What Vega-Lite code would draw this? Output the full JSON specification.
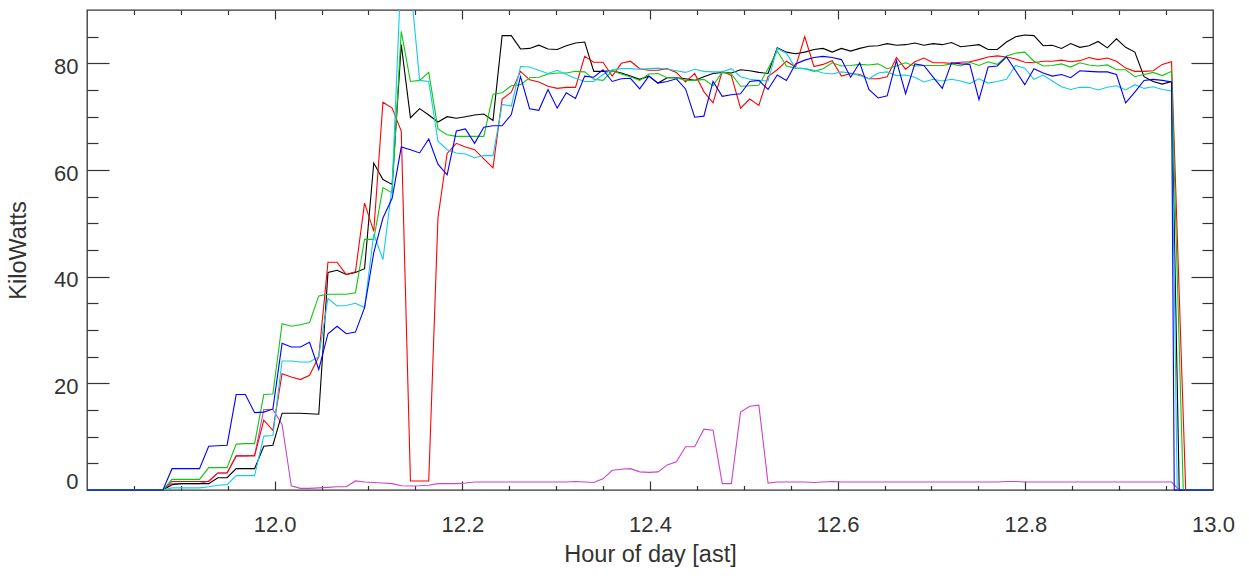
{
"$schema": "https://vega.github.io/schema/vega-lite/v6.json",
"width": 1126, "height": 480,
"autosize": "none",
"padding": {"left": 87, "top": 10, "right": 36, "bottom": 86},
"background": "white",
"config": {
 "view": {"stroke": "#333333", "strokeWidth": 1.3},
 "axis": {"labelFont": "Liberation Sans", "titleFont": "Liberation Sans", "labelFontSize": 22, "titleFontSize": 23.5, "labelColor": "#333333", "titleColor": "#333333", "titleFontWeight": "normal", "tickColor": "#333333", "tickWidth": 1.2, "grid": false, "domain": false}
},
"data": {"values": [
{"t":11.8,"k":0,"r":0,"g":0,"b":0,"c":0,"m":0},
{"t":11.8027,"k":0,"r":0,"g":0,"b":0,"c":0,"m":0},
{"t":11.8125,"k":0,"r":0,"g":0,"b":0,"c":0,"m":0},
{"t":11.8222,"k":0,"r":0,"g":0,"b":0,"c":0,"m":0},
{"t":11.8320,"k":0,"r":0,"g":0,"b":0,"c":0,"m":0},
{"t":11.8418,"k":0,"r":0,"g":0,"b":0,"c":0,"m":0},
{"t":11.8515,"k":0,"r":0,"g":0,"b":0,"c":0,"m":0},
{"t":11.8613,"k":0,"r":0,"g":0,"b":0,"c":0,"m":0},
{"t":11.8711,"k":0,"r":0,"g":0,"b":0,"c":0,"m":0},
{"t":11.8809,"k":0,"r":0,"g":0,"b":0,"c":0,"m":0},
{"t":11.8906,"k":1.0,"r":1.6,"g":2.0,"b":4.0,"c":0.4,"m":1.2},
{"t":11.9004,"k":1.2,"r":1.6,"g":2.0,"b":4.0,"c":0.4,"m":1.2},
{"t":11.9102,"k":1.2,"r":1.6,"g":2.0,"b":4.0,"c":0.4,"m":1.2},
{"t":11.9199,"k":1.2,"r":1.6,"g":2.0,"b":4.0,"c":0.4,"m":1.2},
{"t":11.9297,"k":1.2,"r":1.6,"g":4.2,"b":8.2,"c":0.6,"m":1.7},
{"t":11.9395,"k":2.3,"r":3.2,"g":4.2,"b":8.3,"c":0.9,"m":3.2},
{"t":11.9493,"k":2.3,"r":3.2,"g":4.2,"b":8.4,"c":1.0,"m":3.2},
{"t":11.9590,"k":4.0,"r":6.4,"g":8.6,"b":17.9,"c":2.7,"m":6.4},
{"t":11.9688,"k":4.0,"r":6.4,"g":8.7,"b":17.9,"c":2.7,"m":6.4},
{"t":11.9786,"k":4.0,"r":6.4,"g":8.7,"b":14.5,"c":2.7,"m":6.5},
{"t":11.9884,"k":8.2,"r":13.1,"g":17.9,"b":14.6,"c":10.1,"m":15.1},
{"t":11.9981,"k":8.4,"r":11.2,"g":18.0,"b":15.2,"c":10.2,"m":15.1},
{"t":12.0079,"k":14.4,"r":21.8,"g":31.2,"b":27.5,"c":24.2,"m":12.3},
{"t":12.0177,"k":14.4,"r":21.2,"g":30.7,"b":26.8,"c":24.2,"m":0.8},
{"t":12.0274,"k":14.4,"r":20.7,"g":31.0,"b":26.8,"c":24.0,"m":0.3},
{"t":12.0372,"k":14.3,"r":21.5,"g":31.4,"b":27.7,"c":24.0,"m":0.3},
{"t":12.0470,"k":14.2,"r":25.0,"g":36.4,"b":22.6,"c":25.0,"m":0.4},
{"t":12.0568,"k":40.8,"r":42.7,"g":36.7,"b":29.3,"c":35.9,"m":0.5},
{"t":12.0665,"k":41.2,"r":42.7,"g":36.7,"b":30.7,"c":34.5,"m":0.6},
{"t":12.0763,"k":40.4,"r":40.4,"g":36.7,"b":29.3,"c":34.6,"m":0.6},
{"t":12.0861,"k":40.8,"r":40.9,"g":37.0,"b":29.6,"c":35.0,"m":1.7},
{"t":12.0958,"k":41.5,"r":53.8,"g":47.0,"b":34.2,"c":34.2,"m":1.5},
{"t":12.1056,"k":61.3,"r":48.5,"g":47.0,"b":44.5,"c":48.0,"m":1.4},
{"t":12.1154,"k":58.2,"r":72.7,"g":56.7,"b":51.0,"c":43.2,"m":1.3},
{"t":12.1252,"k":57.3,"r":71.6,"g":55.7,"b":54.7,"c":57.0,"m":1.2},
{"t":12.1349,"k":83.5,"r":67.3,"g":86.0,"b":64.3,"c":98.0,"m":0.8},
{"t":12.1447,"k":69.8,"r":1.7,"g":76.6,"b":63.8,"c":95.0,"m":0.75},
{"t":12.1545,"k":71.5,"r":1.7,"g":76.8,"b":63.2,"c":76.8,"m":0.8},
{"t":12.1642,"k":70.3,"r":1.7,"g":78.3,"b":65.8,"c":76.6,"m":0.9},
{"t":12.1740,"k":69.0,"r":51.0,"g":67.7,"b":61.1,"c":65.4,"m":1.2},
{"t":12.1838,"k":70.0,"r":63.1,"g":66.6,"b":59.1,"c":63.8,"m":1.2},
{"t":12.1936,"k":69.7,"r":65.0,"g":66.3,"b":67.3,"c":63.2,"m":1.2},
{"t":12.2033,"k":70.0,"r":64.3,"g":66.3,"b":67.7,"c":63.0,"m":1.3},
{"t":12.2131,"k":70.3,"r":63.8,"g":66.3,"b":65.0,"c":62.3,"m":1.5},
{"t":12.2229,"k":70.5,"r":62.1,"g":66.3,"b":68.0,"c":62.7,"m":1.5},
{"t":12.2327,"k":69.3,"r":60.4,"g":74.2,"b":68.3,"c":62.7,"m":1.5},
{"t":12.2424,"k":85.2,"r":73.3,"g":74.5,"b":68.3,"c":72.3,"m":1.5},
{"t":12.2522,"k":85.2,"r":74.6,"g":75.8,"b":70.4,"c":72.0,"m":1.5},
{"t":12.2620,"k":82.7,"r":78.5,"g":76.0,"b":77.5,"c":79.4,"m":1.5},
{"t":12.2717,"k":82.8,"r":76.9,"g":77.3,"b":71.5,"c":79.3,"m":1.5},
{"t":12.2815,"k":83.4,"r":76.5,"g":77.4,"b":71.2,"c":78.7,"m":1.5},
{"t":12.2913,"k":82.7,"r":75.7,"g":78.0,"b":75.1,"c":78.1,"m":1.5},
{"t":12.3011,"k":82.6,"r":75.3,"g":78.2,"b":71.6,"c":78.7,"m":1.5},
{"t":12.3108,"k":83.3,"r":75.5,"g":78.2,"b":74.5,"c":77.9,"m":1.5},
{"t":12.3206,"k":83.8,"r":75.5,"g":78.5,"b":73.4,"c":77.2,"m":1.6},
{"t":12.3304,"k":84.0,"r":81.3,"g":78.4,"b":77.6,"c":76.6,"m":1.5},
{"t":12.3401,"k":78.5,"r":80.2,"g":77.0,"b":77.4,"c":76.6,"m":1.4},
{"t":12.3499,"k":78.5,"r":80.2,"g":76.8,"b":78.8,"c":77.9,"m":2.1},
{"t":12.3597,"k":78.6,"r":77.6,"g":78.6,"b":76.6,"c":78.8,"m":3.7},
{"t":12.3695,"k":78.2,"r":80.0,"g":78.0,"b":77.1,"c":79.0,"m":3.9},
{"t":12.3792,"k":77.6,"r":80.4,"g":77.5,"b":77.2,"c":79.0,"m":4.0},
{"t":12.3890,"k":77.0,"r":79.0,"g":76.8,"b":75.2,"c":78.9,"m":3.4},
{"t":12.3988,"k":77.6,"r":78.7,"g":78.0,"b":77.6,"c":79.0,"m":3.3},
{"t":12.4085,"k":76.3,"r":78.7,"g":78.1,"b":76.3,"c":79.1,"m":3.4},
{"t":12.4183,"k":77.3,"r":79.0,"g":77.3,"b":76.6,"c":78.9,"m":4.7},
{"t":12.4281,"k":77.3,"r":78.3,"g":77.3,"b":77.1,"c":78.6,"m":5.3},
{"t":12.4379,"k":77.1,"r":76.5,"g":76.8,"b":75.2,"c":78.3,"m":8.1},
{"t":12.4476,"k":76.8,"r":78.1,"g":76.8,"b":69.9,"c":78.9,"m":8.1},
{"t":12.4574,"k":77.5,"r":74.7,"g":77.0,"b":70.1,"c":78.5,"m":11.4},
{"t":12.4672,"k":78.1,"r":72.6,"g":75.8,"b":76.6,"c":78.4,"m":11.2},
{"t":12.4770,"k":78.3,"r":78.5,"g":78.4,"b":73.8,"c":78.4,"m":1.2},
{"t":12.4867,"k":78.2,"r":77.7,"g":78.0,"b":74.1,"c":79.0,"m":1.2},
{"t":12.4965,"k":78.8,"r":71.6,"g":75.7,"b":74.3,"c":77.5,"m":14.6},
{"t":12.5063,"k":78.6,"r":73.3,"g":75.8,"b":76.6,"c":77.0,"m":15.7},
{"t":12.5160,"k":78.3,"r":72.1,"g":75.9,"b":76.8,"c":76.8,"m":15.9},
{"t":12.5258,"k":78.1,"r":77.5,"g":79.0,"b":75.1,"c":76.7,"m":1.3},
{"t":12.5356,"k":82.9,"r":78.8,"g":82.3,"b":77.8,"c":82.8,"m":1.5},
{"t":12.5454,"k":82.1,"r":80.4,"g":79.5,"b":76.8,"c":81.9,"m":1.5},
{"t":12.5551,"k":81.8,"r":79.3,"g":79.1,"b":79.9,"c":79.1,"m":1.5},
{"t":12.5649,"k":82.1,"r":85.0,"g":79.0,"b":80.6,"c":79.0,"m":1.5},
{"t":12.5747,"k":82.6,"r":79.4,"g":78.5,"b":81.1,"c":78.7,"m":1.4},
{"t":12.5844,"k":82.8,"r":79.8,"g":79.0,"b":81.3,"c":78.2,"m":1.5},
{"t":12.5942,"k":82.1,"r":80.5,"g":80.1,"b":81.1,"c":78.0,"m":1.6},
{"t":12.6040,"k":82.8,"r":77.6,"g":79.5,"b":80.7,"c":78.4,"m":1.5},
{"t":12.6138,"k":82.3,"r":78.1,"g":79.6,"b":77.4,"c":78.2,"m":1.5},
{"t":12.6235,"k":82.8,"r":77.9,"g":79.8,"b":80.1,"c":77.7,"m":1.5},
{"t":12.6333,"k":83.2,"r":77.1,"g":79.7,"b":75.1,"c":77.1,"m":1.5},
{"t":12.6431,"k":83.3,"r":77.1,"g":79.9,"b":73.5,"c":78.2,"m":1.5},
{"t":12.6528,"k":83.7,"r":77.5,"g":79.0,"b":73.9,"c":78.4,"m":1.5},
{"t":12.6626,"k":83.4,"r":81.1,"g":79.5,"b":80.5,"c":77.7,"m":1.5},
{"t":12.6724,"k":83.5,"r":78.9,"g":80.1,"b":74.3,"c":77.8,"m":1.5},
{"t":12.6822,"k":83.8,"r":80.3,"g":79.5,"b":79.9,"c":77.4,"m":1.5},
{"t":12.6919,"k":83.4,"r":81.0,"g":79.6,"b":79.6,"c":76.5,"m":1.5},
{"t":12.7017,"k":83.7,"r":80.1,"g":79.6,"b":77.4,"c":77.0,"m":1.5},
{"t":12.7115,"k":83.5,"r":80.1,"g":79.6,"b":75.3,"c":76.7,"m":1.5},
{"t":12.7213,"k":83.9,"r":80.0,"g":79.9,"b":80.1,"c":77.0,"m":1.5},
{"t":12.7310,"k":83.1,"r":80.2,"g":79.5,"b":79.9,"c":76.7,"m":1.5},
{"t":12.7408,"k":83.3,"r":80.3,"g":80.2,"b":79.8,"c":76.2,"m":1.5},
{"t":12.7506,"k":83.5,"r":80.7,"g":79.6,"b":73.2,"c":77.1,"m":1.5},
{"t":12.7603,"k":82.6,"r":81.2,"g":80.3,"b":79.3,"c":76.3,"m":1.5},
{"t":12.7701,"k":82.6,"r":81.4,"g":79.8,"b":79.5,"c":76.6,"m":1.5},
{"t":12.7799,"k":84.0,"r":81.2,"g":81.4,"b":81.2,"c":77.0,"m":1.6},
{"t":12.7897,"k":85.0,"r":80.8,"g":81.9,"b":78.6,"c":79.6,"m":1.6},
{"t":12.7994,"k":85.3,"r":80.2,"g":82.1,"b":76.0,"c":79.1,"m":1.5},
{"t":12.8092,"k":85.2,"r":80.1,"g":80.4,"b":79.0,"c":77.0,"m":1.5},
{"t":12.8190,"k":83.3,"r":80.4,"g":79.5,"b":78.2,"c":77.8,"m":1.5},
{"t":12.8287,"k":83.4,"r":80.4,"g":79.6,"b":77.6,"c":76.7,"m":1.5},
{"t":12.8385,"k":82.8,"r":80.6,"g":79.9,"b":77.9,"c":75.6,"m":1.5},
{"t":12.8483,"k":83.7,"r":80.3,"g":79.3,"b":77.3,"c":75.1,"m":1.5},
{"t":12.8581,"k":83.0,"r":80.5,"g":80.1,"b":78.6,"c":75.5,"m":1.5},
{"t":12.8678,"k":83.3,"r":81.1,"g":79.7,"b":78.5,"c":75.5,"m":1.5},
{"t":12.8776,"k":84.1,"r":80.7,"g":79.5,"b":78.4,"c":75.0,"m":1.5},
{"t":12.8874,"k":82.9,"r":81.0,"g":79.7,"b":78.4,"c":75.5,"m":1.5},
{"t":12.8971,"k":84.6,"r":80.4,"g":78.8,"b":77.9,"c":75.8,"m":1.5},
{"t":12.9069,"k":83.0,"r":79.1,"g":78.8,"b":72.6,"c":75.0,"m":1.5},
{"t":12.9167,"k":82.1,"r":78.5,"g":77.5,"b":74.6,"c":76.0,"m":1.5},
{"t":12.9265,"k":77.5,"r":78.5,"g":77.9,"b":76.8,"c":75.3,"m":1.5},
{"t":12.9362,"k":76.6,"r":78.6,"g":78.3,"b":77.0,"c":75.6,"m":1.5},
{"t":12.9460,"k":76.1,"r":79.8,"g":77.7,"b":76.8,"c":75.1,"m":1.5},
{"t":12.9558,"k":76.6,"r":80.3,"g":78.5,"b":76.5,"c":74.8,"m":1.5},
{"t":12.9587,"b":0},
{"t":12.9619,"c":0},
{"t":12.9640,"k":0,"m":0},
{"t":12.9683,"g":0},
{"t":12.9709,"r":0},
{"t":12.9753,"k":0,"r":0,"g":0,"b":0,"c":0,"m":0},
{"t":12.9851,"k":0,"r":0,"g":0,"b":0,"c":0,"m":0},
{"t":12.9949,"k":0,"r":0,"g":0,"b":0,"c":0,"m":0},
{"t":13.0,"k":0,"r":0,"g":0,"b":0,"c":0,"m":0}
]},
"transform": [
 {"fold": ["k", "r", "g", "b", "c", "m"], "as": ["s", "v"]},
 {"filter": "isValid(datum.v)"}
],
"resolve": {"axis": {"x": "independent", "y": "independent"}},
"layer": [
 {
  "transform": [{"filter": "datum.s === 'm'"}],
  "mark": {"type": "line", "color": "#cc44cc", "strokeWidth": 1.1, "clip": false},
  "encoding": {
   "x": {"field": "t", "type": "quantitative", "scale": {"domain": [11.8, 13.0], "nice": false, "zero": false}, "axis": null},
   "y": {"field": "v", "type": "quantitative", "scale": {"domain": [0, 90], "nice": false, "zero": false}, "axis": null}
  }
 },
 {
  "transform": [{"filter": "datum.s === 'k'"}],
  "mark": {"type": "line", "color": "#000000", "strokeWidth": 1.1, "clip": false},
  "encoding": {
   "x": {"field": "t", "type": "quantitative", "scale": {"domain": [11.8, 13.0], "nice": false, "zero": false},
         "axis": {"orient": "bottom", "values": [12.0, 12.2, 12.4, 12.6, 12.8, 13.0], "format": ".1f", "ticks": false, "labelPadding": 24, "labelFlush": false, "title": "Hour of day [ast]", "titlePadding": 7}},
   "y": {"field": "v", "type": "quantitative", "scale": {"domain": [0, 90], "nice": false, "zero": false},
         "axis": {"orient": "left", "values": [0, 20, 40, 60, 80], "ticks": false, "labelPadding": 9, "labelFlush": true, "labelOffset": 3, "title": "KiloWatts", "titlePadding": 23}}
  }
 },
 {
  "transform": [{"filter": "datum.s === 'r'"}],
  "mark": {"type": "line", "color": "#ff0000", "strokeWidth": 1.1, "clip": false},
  "encoding": {
   "x": {"field": "t", "type": "quantitative", "scale": {"domain": [11.8, 13.0], "nice": false, "zero": false},
         "axis": {"orient": "bottom", "values": [12.0, 12.2, 12.4, 12.6, 12.8], "labels": false, "tickSize": 9, "offset": -9, "title": null}},
   "y": {"field": "v", "type": "quantitative", "scale": {"domain": [0, 90], "nice": false, "zero": false},
         "axis": {"orient": "left", "values": [20, 40, 60, 80], "labels": false, "tickSize": 22, "offset": -22, "title": null}}
  }
 },
 {
  "transform": [{"filter": "datum.s === 'g'"}],
  "mark": {"type": "line", "color": "#11c611", "strokeWidth": 1.1, "clip": false},
  "encoding": {
   "x": {"field": "t", "type": "quantitative", "scale": {"domain": [11.8, 13.0], "nice": false, "zero": false},
         "axis": {"orient": "bottom", "values": [11.85, 11.9, 11.95, 12.05, 12.1, 12.15, 12.25, 12.3, 12.35, 12.45, 12.5, 12.55, 12.65, 12.7, 12.75, 12.85, 12.9, 12.95], "labels": false, "tickSize": 4.5, "offset": -4.5, "title": null}},
   "y": {"field": "v", "type": "quantitative", "scale": {"domain": [0, 90], "nice": false, "zero": false},
         "axis": {"orient": "left", "values": [5, 10, 15, 25, 30, 35, 45, 50, 55, 65, 70, 75, 85], "labels": false, "tickSize": 11, "offset": -11, "title": null}}
  }
 },
 {
  "transform": [{"filter": "datum.s === 'c'"}],
  "mark": {"type": "line", "color": "#11ccee", "strokeWidth": 1.1, "clip": true},
  "encoding": {
   "x": {"field": "t", "type": "quantitative", "scale": {"domain": [11.8, 13.0], "nice": false, "zero": false},
         "axis": {"orient": "top", "values": [11.85, 11.9, 11.95, 12.05, 12.1, 12.15, 12.25, 12.3, 12.35, 12.45, 12.5, 12.55, 12.65, 12.7, 12.75, 12.85, 12.9, 12.95], "labels": false, "tickSize": 4.5, "offset": -4.5, "title": null}},
   "y": {"field": "v", "type": "quantitative", "scale": {"domain": [0, 90], "nice": false, "zero": false},
         "axis": {"orient": "right", "values": [5, 10, 15, 25, 30, 35, 45, 50, 55, 65, 70, 75, 85], "labels": false, "tickSize": 11, "offset": -11, "title": null}}
  }
 },
 {
  "transform": [{"filter": "datum.s === 'b'"}],
  "mark": {"type": "line", "color": "#0000ff", "strokeWidth": 1.1, "clip": false},
  "encoding": {
   "x": {"field": "t", "type": "quantitative", "scale": {"domain": [11.8, 13.0], "nice": false, "zero": false},
         "axis": {"orient": "top", "values": [12.0, 12.2, 12.4, 12.6, 12.8], "labels": false, "tickSize": 9, "offset": -9, "title": null}},
   "y": {"field": "v", "type": "quantitative", "scale": {"domain": [0, 90], "nice": false, "zero": false},
         "axis": {"orient": "right", "values": [20, 40, 60, 80], "labels": false, "tickSize": 22, "offset": -22, "title": null}}
  }
 }
]
}
